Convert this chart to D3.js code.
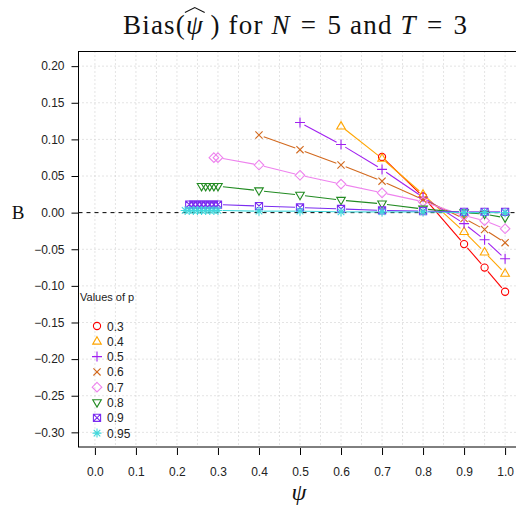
<!DOCTYPE html>
<html><head><meta charset="utf-8">
<script src="https://cdn.jsdelivr.net/npm/d3@7"></script>
<style>body{margin:0;background:#fff}svg{display:block}</style>
</head><body>
<svg id="c" width="516" height="508"></svg>
<script>
// ---- data ----
const pValues = ["0.3","0.4","0.5","0.6","0.7","0.8","0.9","0.95"];
const colors = ["#FF0000","#FFA500","#A020F0","#D2691E","#EE82EE","#228B22","#7B2CF0","#40D8DC"];
const shapes = ["circle","triUp","plus","cross","diamond","triDown","boxX","asterisk"];
const psi03 = [0.7,0.8,0.9,0.95,1.0];
const b03   = [0.076,0.022,-0.043,-0.075,-0.108];
const psi04 = [0.6,0.7,0.8,0.9,0.95,1.0];
const b04   = [0.118,0.074,0.025,-0.026,-0.054,-0.083];
const psi05 = [0.5,0.6,0.7,0.8,0.9,0.95,1.0];
const b05   = [0.123,0.093,0.059,0.021,-0.015,-0.037,-0.063];
const psi06 = [0.4,0.5,0.6,0.7,0.8,0.9,0.95,1.0];
const b06   = [0.106,0.086,0.065,0.043,0.018,-0.008,-0.023,-0.041];
const psi07 = [0.29,0.30,0.4,0.5,0.6,0.7,0.8,0.9,0.95,1.0];
const b07   = [0.075,0.075,0.065,0.051,0.039,0.027,0.015,-0.004,-0.011,-0.022];
const psi08 = [0.26,0.27,0.28,0.29,0.30,0.4,0.5,0.6,0.7,0.8,0.9,0.95,1.0];
const b08   = [0.036,0.036,0.036,0.036,0.036,0.030,0.024,0.017,0.012,0.005,0.000,-0.002,-0.007];
const psi09 = [0.23,0.24,0.25,0.26,0.27,0.28,0.29,0.30,0.4,0.5,0.6,0.7,0.8,0.9,0.95,1.0];
const b09   = [0.011,0.011,0.011,0.011,0.011,0.011,0.011,0.011,0.009,0.007,0.005,0.003,0.002,0.001,0.001,0.001];
const psi095 = [0.22,0.23,0.24,0.25,0.26,0.27,0.28,0.29,0.30,0.4,0.5,0.6,0.7,0.8,0.9,0.95,1.0];
const b095   = [0.003,0.003,0.003,0.003,0.003,0.003,0.003,0.003,0.003,0.002,0.002,0.001,0.001,0.001,0.000,0.000,0.000];
const xTicks = [0,0.1,0.2,0.3,0.4,0.5,0.6,0.7,0.8,0.9,1.0];
const xTickLabels = ["0.0","0.1","0.2","0.3","0.4","0.5","0.6","0.7","0.8","0.9","1.0"];
const yTicks = [0.20,0.15,0.10,0.05,0.00,-0.05,-0.10,-0.15,-0.20,-0.25,-0.30];
const yTickLabels = ["0.20","0.15","0.10","0.05","0.00","\u22120.05","\u22120.10","\u22120.15","\u22120.20","\u22120.25","\u22120.30"];
const xGrid = d3.range(0,21).map(i=>i*0.05);
const yGrid = d3.range(-6,5).map(i=>i*0.05);

const series = [
  {x:psi03,y:b03},{x:psi04,y:b04},{x:psi05,y:b05},{x:psi06,y:b06},
  {x:psi07,y:b07},{x:psi08,y:b08},{x:psi09,y:b09},{x:psi095,y:b095}
];

// ---- layout ----
const svg = d3.select("#c");
const x = d3.scaleLinear().domain([-0.04,1.04]).range([78.5,521.5]);
const y = d3.scaleLinear().domain([-0.32,0.22]).range([447,51.5]);
const L=78.5, R=521.5, T=51.5, B=447;

// grid
const g = svg.append("g");
g.selectAll(".vg").data(xGrid).join("line")
  .attr("x1",d=>x(d)).attr("x2",d=>x(d)).attr("y1",T).attr("y2",B)
  .attr("stroke","#c8c8c8").attr("stroke-width",1).attr("stroke-dasharray","1,3");
g.selectAll(".hg").data(yGrid.filter(v=>Math.abs(v)>1e-9)).join("line")
  .attr("x1",L).attr("x2",R).attr("y1",d=>y(d)).attr("y2",d=>y(d))
  .attr("stroke","#c8c8c8").attr("stroke-width",1).attr("stroke-dasharray","1,3");

// zero line
svg.append("line").attr("x1",L).attr("x2",R).attr("y1",y(0)).attr("y2",y(0))
  .attr("stroke","#000").attr("stroke-width",1).attr("stroke-dasharray","4,4");

// box
svg.append("rect").attr("x",L).attr("y",T).attr("width",R-L).attr("height",B-T)
  .attr("fill","none").attr("stroke","#000").attr("stroke-width",1);

// axes
const xAxis = d3.axisBottom(x).tickValues(xTicks).tickSize(7).tickFormat((d,i)=>xTickLabels[i]);
const xa = svg.append("g").attr("transform",`translate(0,${B+1})`).call(xAxis);
xa.select(".domain").remove();
xa.selectAll("text").attr("y",19).attr("font-size",12).attr("font-family","Liberation Sans, Arial, sans-serif").attr("fill","#222");
xa.selectAll("line").attr("stroke","#000");
const yAxis = d3.axisLeft(y).tickValues(yTicks).tickSize(7).tickFormat((d,i)=>yTickLabels[i]);
const ya = svg.append("g").attr("transform",`translate(${L},0)`).call(yAxis);
ya.select(".domain").remove();
ya.selectAll("text").attr("x",-14).attr("font-size",12).attr("font-family","Liberation Sans, Arial, sans-serif").attr("fill","#222");
ya.selectAll("line").attr("stroke","#000");

// marker shapes
function shapePath(s){
  switch(s){
    case "circle": { const r=3.6; return `M${-r},0a${r},${r} 0 1,0 ${2*r},0a${r},${r} 0 1,0 ${-2*r},0Z`; }
    case "triUp": return "M0,-4.6L4.3,2.8L-4.3,2.8Z";
    case "triDown": return "M0,4.6L4.3,-2.8L-4.3,-2.8Z";
    case "plus": return "M-5,0L5,0M0,-5L0,5";
    case "cross": return "M-3.6,-3.6L3.6,3.6M-3.6,3.6L3.6,-3.6";
    case "diamond": return "M0,-4.8L4.8,0L0,4.8L-4.8,0Z";
    case "boxX": return "M-3.6,-3.6H3.6V3.6H-3.6ZM-3.6,-3.6L3.6,3.6M-3.6,3.6L3.6,-3.6";
    case "asterisk": return "M-4.5,0L4.5,0M0,-4.5L0,4.5M-3.3,-3.3L3.3,3.3M-3.3,3.3L3.3,-3.3";
  }
}

// lines with gaps (type "b")
const gap = 5;
series.forEach((s,k)=>{
  const pts = s.x.map((v,i)=>[x(v),y(s.y[i])]);
  const segs=[];
  for(let i=0;i<pts.length-1;i++){
    const [x1,y1]=pts[i],[x2,y2]=pts[i+1];
    const d=Math.hypot(x2-x1,y2-y1);
    if(d>2*gap+1){
      const ux=(x2-x1)/d, uy=(y2-y1)/d;
      segs.push([[x1+ux*gap,y1+uy*gap],[x2-ux*gap,y2-uy*gap]]);
    }
  }
  svg.append("g").selectAll("line").data(segs).join("line")
    .attr("x1",d=>d[0][0]).attr("y1",d=>d[0][1]).attr("x2",d=>d[1][0]).attr("y2",d=>d[1][1])
    .attr("stroke",colors[k]).attr("stroke-width",1.1);
});
series.forEach((s,k)=>{
  svg.append("g").selectAll("path").data(s.x.map((v,i)=>[v,s.y[i]])).join("path")
    .attr("transform",d=>`translate(${x(d[0])},${y(d[1])})`)
    .attr("d",shapePath(shapes[k]))
    .attr("fill","none").attr("stroke",colors[k]).attr("stroke-width",1.1);
});

// legend
svg.append("text").attr("x",80).attr("y",301).attr("font-size",11)
  .attr("font-family","Liberation Sans, Arial, sans-serif").attr("fill","#222").text("Values of p");
const lg = svg.append("g").selectAll("g").data(pValues).join("g")
  .attr("transform",(d,i)=>`translate(97,${326+i*15.3})`);
lg.append("path").attr("d",(d,i)=>shapePath(shapes[i])).attr("fill","none")
  .attr("stroke",(d,i)=>colors[i]).attr("stroke-width",1.1);
lg.append("text").attr("x",10).attr("y",4.5).attr("font-size",12)
  .attr("font-family","Liberation Sans, Arial, sans-serif").attr("fill","#222").text(d=>d);

// title
const serif = "Liberation Serif, DejaVu Serif, serif";
const title = svg.append("text").attr("x",123).attr("y",34)
  .attr("font-size",27).attr("font-family",serif).attr("fill","#111")
  .attr("textLength",344).attr("lengthAdjust","spacing");
title.append("tspan").text("Bias(");
title.append("tspan").attr("font-style","italic").text("\u03C8");
title.append("tspan").text("\u2009) for ");
title.append("tspan").attr("font-style","italic").text("N");
title.append("tspan").text("\u2004=\u20045 and ");
title.append("tspan").attr("font-style","italic").text("T");
title.append("tspan").text("\u2004=\u20043");
// wide hat over psi
const tn = title.node();
const s0 = tn.getStartPositionOfChar(5), e0 = tn.getEndPositionOfChar(5);
const hx1 = s0.x-1, hx2 = e0.x+2, hy = 7.5;
svg.append("path").attr("d",`M${hx1},${hy+5}L${(hx1+hx2)/2},${hy}L${hx2},${hy+5}`)
  .attr("fill","none").attr("stroke","#111").attr("stroke-width",1.1);

// axis titles
svg.append("text").attr("x",18).attr("y",219).attr("text-anchor","middle").attr("font-size",19)
  .attr("font-family",serif).attr("fill","#111").text("B");
svg.append("text").attr("x",299).attr("y",500).attr("text-anchor","middle").attr("font-size",24)
  .attr("font-style","italic").attr("font-family",serif).attr("fill","#111").text("\u03C8");
</script>
</body></html>
